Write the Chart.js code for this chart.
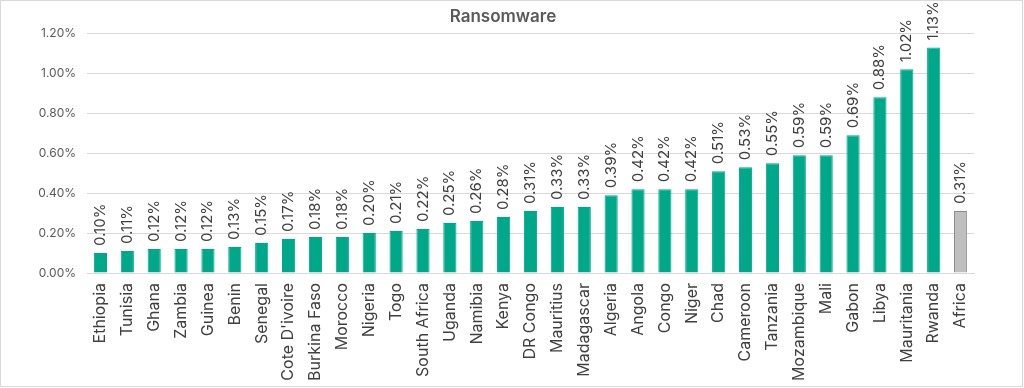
<!DOCTYPE html>
<html>
<head>
<meta charset="utf-8">
<script src="https://cdn.jsdelivr.net/npm/chart.js@4/dist/chart.umd.min.js"></script>
<style>
    html, body { margin: 0; padding: 0; background: #ffffff; }
    #caixa { position: relative; width: 1024px; height: 388px; }
    #grafico { position: absolute; left: 0; top: 0; }
    #borda { position: absolute; left: 0; top: 0; width: 1021px; height: 385px; border: 1px solid #d9d9d9; pointer-events: none; }
</style>
</head>
<body>
<div id="caixa">
    <canvas id="grafico" width="1024" height="388"></canvas>
    <div id="borda"></div>
</div>
<script>
const paises = ["Ethiopia", "Tunisia", "Ghana", "Zambia", "Guinea", "Benin", "Senegal", "Cote D'ivoire",
    "Burkina Faso", "Morocco", "Nigeria", "Togo", "South Africa", "Uganda", "Namibia", "Kenya",
    "DR Congo", "Mauritius", "Madagascar", "Algeria", "Angola", "Congo", "Niger", "Chad",
    "Cameroon", "Tanzania", "Mozambique", "Mali", "Gabon", "Libya", "Mauritania", "Rwanda", "Africa"];

// valores em %
const valores = [0.10, 0.11, 0.12, 0.12, 0.12, 0.13, 0.15, 0.17,
    0.18, 0.18, 0.20, 0.21, 0.22, 0.25, 0.26, 0.28,
    0.31, 0.33, 0.33, 0.39, 0.42, 0.42, 0.42, 0.51,
    0.53, 0.55, 0.59, 0.59, 0.69, 0.88, 1.02, 1.13, 0.31];

const ticksY = [0, 0.2, 0.4, 0.6, 0.8, 1.0, 1.2];

const corBarra = '#00a88a';
const corMedia = '#bfbfbf';

const coresBarras = paises.map(p => p === "Africa" ? corMedia : corBarra);
const coresBorda = paises.map(p => p === "Africa" ? '#8c8c8c' : corBarra);

// rotulos de valor rodados por cima das barras
const rotulosValor = {
    id: 'rotulosValor',
    afterDatasetsDraw(chart) {
        const ctx = chart.ctx;
        const meta = chart.getDatasetMeta(0);
        ctx.save();
        ctx.fillStyle = '#404040';
        ctx.font = '15px Inter';
        ctx.textAlign = 'left';
        ctx.textBaseline = 'middle';
        meta.data.forEach((barra, i) => {
            ctx.save();
            ctx.translate(barra.x, barra.y - 7);
            ctx.rotate(-Math.PI / 2);
            ctx.fillText(valores[i].toFixed(2) + '%', 0, 0);
            ctx.restore();
        });
        ctx.restore();
    }
};

const ctx = document.getElementById('grafico').getContext('2d');
new Chart(ctx, {
    type: 'bar',
    data: {
        labels: paises,
        datasets: [{
            label: 'Ransomware',
            data: valores,
            backgroundColor: coresBarras,
            borderColor: coresBorda,
            borderWidth: 1,
            categoryPercentage: 1,
            barPercentage: 0.49
        }]
    },
    options: {
        responsive: false,
        animation: false,
        layout: { padding: { left: 32, right: 50, top: 7, bottom: 0 } },
        plugins: {
            legend: { display: false },
            tooltip: { enabled: false },
            title: {
                display: true,
                text: 'Ransomware',
                color: '#595959',
                font: { family: 'Inter', size: 17, weight: '600' },
                padding: { top: 0, bottom: 6 }
            }
        },
        scales: {
            x: {
                grid: { display: false, drawTicks: false },
                border: { color: '#d9d9d9' },
                ticks: {
                    color: '#404040',
                    font: { family: 'Inter', size: 16 },
                    minRotation: 90,
                    maxRotation: 90,
                    padding: 10,
                    autoSkip: false
                },
                afterFit(scale) { scale.height = 115; }
            },
            y: {
                min: 0,
                max: 1.2,
                afterBuildTicks(scale) { scale.ticks = ticksY.map(v => ({ value: v })); },
                grid: { color: '#d9d9d9', drawTicks: false },
                border: { display: false },
                ticks: {
                    color: '#595959',
                    font: { family: 'Inter', size: 12 },
                    padding: 11,
                    callback: v => v.toFixed(2) + '%'
                },
                afterFit(scale) { scale.width = 55; }
            }
        }
    },
    plugins: [rotulosValor]
});
</script>
</body>
</html>
